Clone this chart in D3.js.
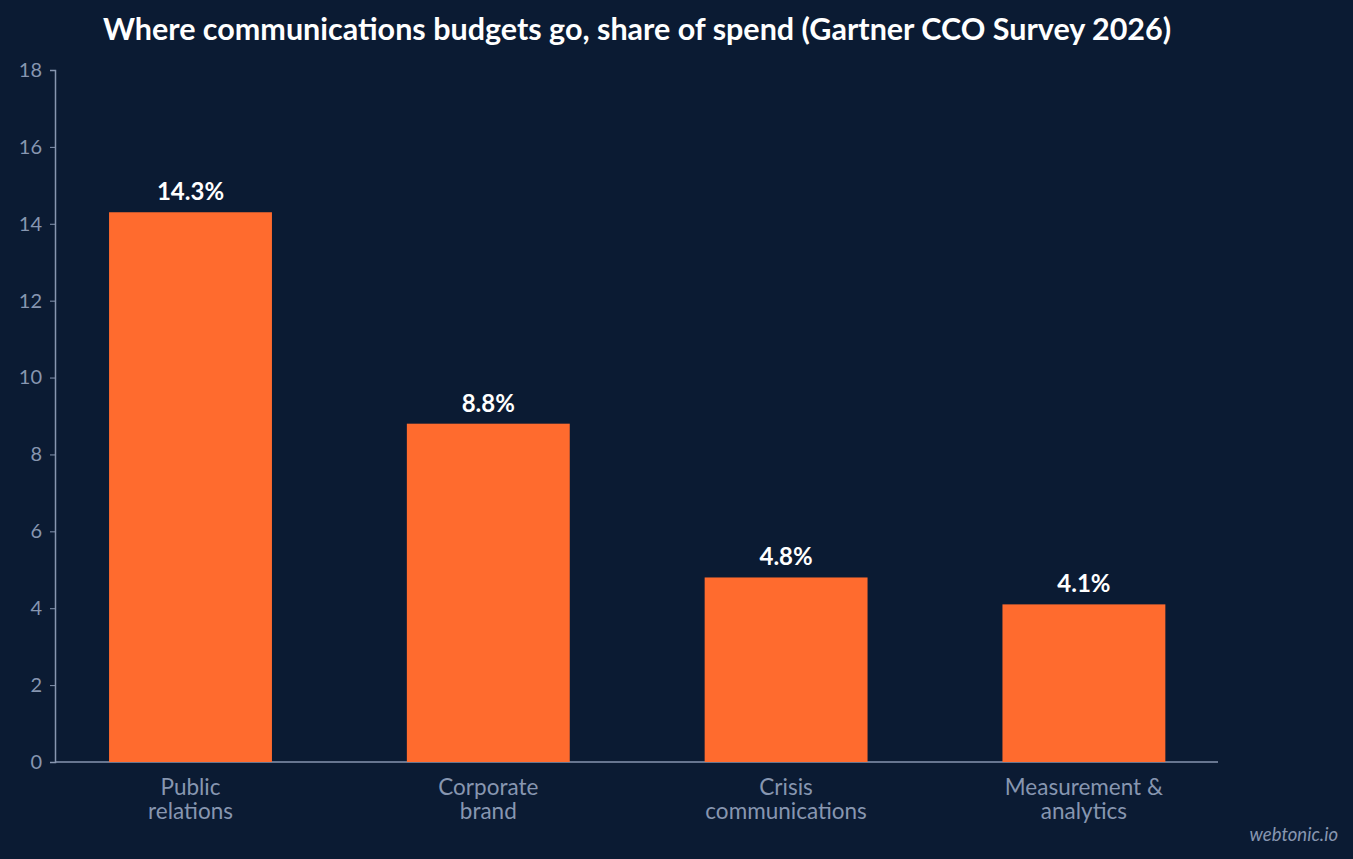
<!DOCTYPE html>
<html><head><meta charset="utf-8">
<script src="https://cdn.jsdelivr.net/npm/d3@7"></script>
<style>body{margin:0;background:#0b1b33}svg{display:block;font-family:Lato,sans-serif}</style>
</head><body><svg id="c" width="1353" height="859"></svg>
<script>
const categories = [['Public', 'relations'], ['Corporate', 'brand'], ['Crisis', 'communications'], ['Measurement &', 'analytics']]
const values = [14.3, 8.8, 4.8, 4.1]
const yTicks = [0, 2, 4, 6, 8, 10, 12, 14, 16, 18]

const svg = d3.select('#c')
svg.append('rect').attr('width', 1353).attr('height', 859).attr('fill', '#0b1b33')

const x = d3.scaleBand().domain(d3.range(values.length)).range([41.6, 1232.8])
  .paddingInner(0.453).paddingOuter(0.2265)
const y = d3.scaleLinear().domain([0, 18]).range([762, 70])
const axisCol = '#8796b0'

const ya = svg.append('g').attr('transform', 'translate(55,0)')
  .call(d3.axisLeft(y).tickValues(yTicks).tickSize(5).tickPadding(8))
ya.select('.domain').attr('stroke', axisCol).attr('stroke-width', 1.5)
ya.selectAll('.tick line').attr('stroke', axisCol)
ya.selectAll('text').attr('fill', axisCol).attr('font-size', 20).attr('font-family', 'Lato')

svg.append('line').attr('x1', 55).attr('x2', 1218).attr('y1', 762).attr('y2', 762)
  .attr('stroke', axisCol).attr('stroke-width', 1.5)

svg.selectAll('rect.bar').data(values).join('rect').attr('class', 'bar')
  .attr('x', (d, i) => x(i)).attr('width', x.bandwidth())
  .attr('y', d => y(d)).attr('height', d => y(0) - y(d)).attr('fill', '#ff6b2e')

svg.selectAll('text.val').data(values).join('text').attr('class', 'val')
  .attr('x', (d, i) => x(i) + x.bandwidth() / 2).attr('y', d => y(d) - 12)
  .attr('text-anchor', 'middle').attr('fill', '#fff').attr('font-weight', 700).attr('font-size', 24)
  .text(d => d.toFixed(1) + '%')

const lab = svg.selectAll('text.cat').data(categories).join('text').attr('class', 'cat')
  .attr('text-anchor', 'middle').attr('fill', axisCol).attr('font-size', 22.5)
lab.selectAll('tspan').data((d, i) => d.map(t => ({t, i}))).join('tspan')
  .attr('x', d => x(d.i) + x.bandwidth() / 2).attr('y', (d, j) => 795 + j * 24).text(d => d.t)

svg.append('text').attr('x', 637).attr('y', 40).attr('text-anchor', 'middle')
  .attr('fill', '#fff').attr('font-weight', 700).attr('font-size', 30.5)
  .text('Where communications budgets go, share of spend (Gartner CCO Survey 2026)')

svg.append('text').attr('x', 1338).attr('y', 841).attr('text-anchor', 'end')
  .attr('fill', '#8796b0').attr('font-style', 'italic').attr('font-size', 18.5).text('webtonic.io')
</script></body></html>
